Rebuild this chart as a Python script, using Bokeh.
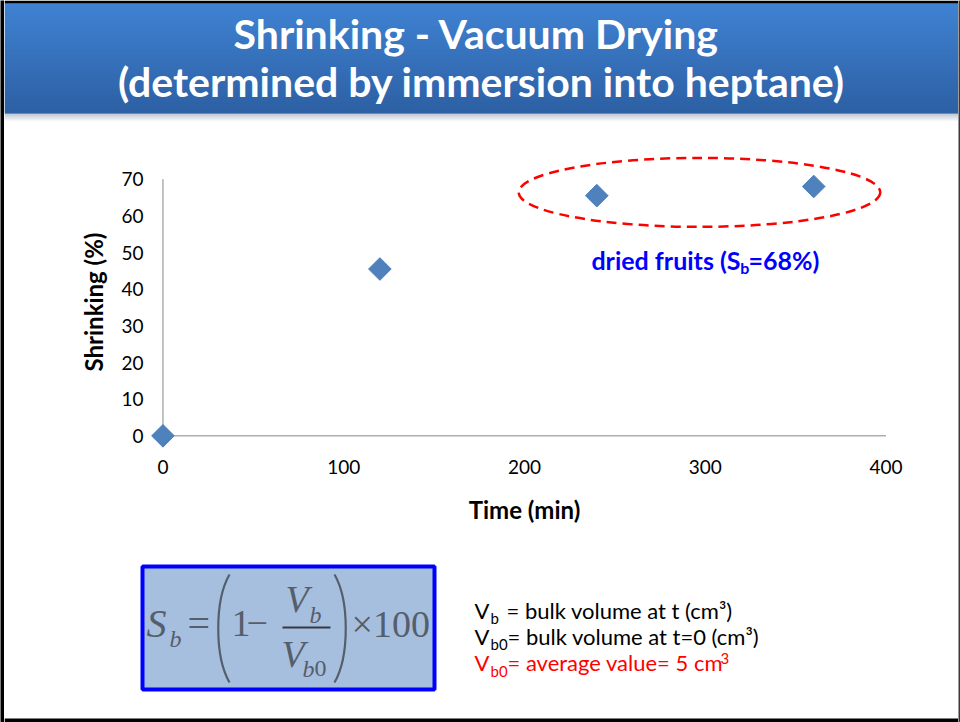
from bokeh.plotting import figure
from bokeh.models import Range1d
from bokeh.layouts import row, column
from bokeh.embed import file_html
from bokeh.resources import INLINE
from bokeh.core.properties import value

# ---- data ----
time_min = [0, 120, 240, 360]
shrinking_pct = [0, 45.5, 65.5, 68]
x_ticks = [0, 100, 200, 300, 400]
y_ticks = [0, 10, 20, 30, 40, 50, 60, 70]
x_label = "Time (min)"
y_label = "Shrinking (%)"
title_lines = ["Shrinking  - Vacuum Drying", "(determined by immersion into heptane)"]
sb_final = 68

SANS = value("Lato")
SERIF = value("Liberation Serif")

W, H = 960, 722
LEFT_EDGE, RIGHT_EDGE = 4, 2
INNER_W = W - LEFT_EDGE - RIGHT_EDGE
BANNER_H, CHART_H = 122, 433
BOTTOM_H = H - BANNER_H - CHART_H

# text glyphs sit this far (in em) below the requested alphabetic baseline
BASE_SHIFT = 0.36


def lift(y, size_px):
    return y - BASE_SHIFT * size_px


def blend(c0, c1, t):
    a = [int(c0[i:i + 2], 16) for i in (1, 3, 5)]
    b = [int(c1[i:i + 2], 16) for i in (1, 3, 5)]
    return "#%02x%02x%02x" % tuple(round(a[k] + (b[k] - a[k]) * t) for k in range(3))


def canvas_fig(width, height, y_top):
    """A figure whose frame fills it, addressed in page pixels (y grows down)."""
    p = figure(width=width, height=height, output_backend="svg", toolbar_location=None,
               x_range=Range1d(LEFT_EDGE, LEFT_EDGE + width),
               y_range=Range1d(y_top + height, y_top),
               x_axis_location=None, y_axis_location=None, min_border=0,
               outline_line_color=None, background_fill_color="white",
               border_fill_color="white", frame_align=False)
    p.grid.visible = False
    return p


def edge_fig(width, color):
    p = figure(width=width, height=H, output_backend="svg", toolbar_location=None,
               x_axis_location=None, y_axis_location=None, min_border=0,
               outline_line_color=None, background_fill_color=color,
               border_fill_color=color, x_range=Range1d(0, 1), y_range=Range1d(0, 1),
               frame_align=False)
    p.grid.visible = False
    return p


# ---- title banner ----
banner = canvas_fig(INNER_W, BANNER_H, 0)
n = 55
band_top, band_bot = 3, 113
step = (band_bot - band_top) / n
banner.quad(left=[LEFT_EDGE] * n, right=[W - RIGHT_EDGE] * n,
            top=[band_top + i * step for i in range(n)],
            bottom=[band_top + (i + 1) * step + 0.5 for i in range(n)],
            fill_color=[blend("#3f82d2", "#2d60a4", i / (n - 1)) for i in range(n)],
            line_color=None)
m = 9
banner.quad(left=[LEFT_EDGE] * m, right=[W - RIGHT_EDGE] * m,
            top=[band_bot + i for i in range(m)],
            bottom=[band_bot + i + 1 for i in range(m)],
            fill_color=[blend("#a9b6c6", "#ffffff", i / (m - 1)) for i in range(m)],
            line_color=None)
banner.quad(left=[LEFT_EDGE], right=[W - RIGHT_EDGE], top=[0], bottom=[3],
            fill_color="black", line_color=None)
banner.text(x=[481, 481], y=[lift(48, 41), lift(96, 41)], text=title_lines, text_font=SANS,
            text_font_size="41px", text_font_style="bold", text_color="white",
            text_align="center", text_baseline="alphabetic")

# ---- scatter chart ----
px_x0, px_x1 = 148 - LEFT_EDGE, (W - RIGHT_EDGE) - 900
chart = figure(width=INNER_W, height=CHART_H, output_backend="svg", toolbar_location=None,
               x_range=Range1d(-8, 408), y_range=Range1d(-4, 77),
               min_border_left=px_x0, min_border_right=px_x1,
               min_border_top=31, min_border_bottom=105,
               outline_line_color=None, background_fill_color="white",
               border_fill_color="white", frame_align=False)
chart.grid.visible = False
chart.xaxis.ticker = x_ticks
chart.yaxis.ticker = y_ticks
for ax in (chart.xaxis, chart.yaxis):
    ax.axis_line_color = None
    ax.major_tick_line_color = None
    ax.minor_tick_line_color = None
    ax.major_tick_out = 0
    ax.major_tick_in = 0
    ax.minor_tick_out = 0
    ax.major_label_text_font = "Lato"
    ax.major_label_text_font_size = "19px"
    ax.major_label_text_color = "black"
    ax.axis_label_text_font = "Lato"
    ax.axis_label_text_font_size = "24px"
    ax.axis_label_text_font_style = "bold"
    ax.axis_label_text_color = "black"
chart.xaxis.axis_label = x_label
chart.yaxis.axis_label = y_label
chart.xaxis.major_label_standoff = 9
chart.yaxis.major_label_standoff = 5
chart.xaxis.axis_label_standoff = 18
chart.yaxis.axis_label_standoff = 10

# axis lines crossing at the origin
chart.segment(x0=[x_ticks[0], x_ticks[0]], y0=[y_ticks[0], y_ticks[0]],
              x1=[x_ticks[-1], x_ticks[0]], y1=[y_ticks[0], y_ticks[-1]],
              line_color="#868686", line_width=1)

# dashed ring around the plateau points
chart.ellipse(x=[296.8], y=[66.4], width=[200], height=[18.8], fill_color=None,
              line_color="#ff0000", line_width=2.5, line_dash="10 6")

chart.scatter(x=time_min, y=shrinking_pct, marker="square", size=16, angle=0.785398,
              fill_color="#4f81bd", line_color="#4a7ebb")

# plateau annotation: dried fruits (S_b=68%)
chart.text(x=[237.0], y=[47.85], text=["dried fruits (S"], text_font=SANS,
           text_font_size="25px", text_font_style="bold", text_color="#0000ff",
           text_align="left", text_baseline="alphabetic")
chart.text(x=[319.4], y=[45.8], text=["b"], text_font=SANS,
           text_font_size="16px", text_font_style="bold", text_color="#0000ff",
           text_align="left", text_baseline="alphabetic")
chart.text(x=[323.9], y=[47.85], text=["=%d%%)" % sb_final], text_font=SANS,
           text_font_size="25px", text_font_style="bold", text_color="#0000ff",
           text_align="left", text_baseline="alphabetic")

# ---- formula and definitions ----
bottom = canvas_fig(INNER_W, BOTTOM_H, BANNER_H + CHART_H)
bottom.quad(left=[LEFT_EDGE], right=[W - RIGHT_EDGE], top=[718], bottom=[722],
            fill_color="black", line_color=None)
bottom.quad(left=[142], right=[434], top=[566], bottom=[689],
            fill_color="#a7bfde", line_color="#0000ff", line_width=4)

fc = "#555e6b"
def ftxt(x, y, s, size, italic=False):
    bottom.text(x=[x], y=[lift(y, size)], text=[s], text_font=SERIF,
                text_font_size="%dpx" % size,
                text_font_style="italic" if italic else "normal", text_color=fc,
                text_align="left", text_baseline="alphabetic")

ftxt(146, 637, "S", 40, True)
ftxt(169, 647, "b", 24, True)
ftxt(187, 637, "=", 40)
ftxt(231, 637, "1", 38)
ftxt(246, 637, "\u2212", 38)
ftxt(285, 612, "V", 38, True)
ftxt(309, 623, "b", 24, True)
ftxt(281, 667, "V", 38, True)
ftxt(302, 677, "b", 24, True)
ftxt(314, 677, "0", 24)
ftxt(351, 637, "\u00d7100", 38)
bottom.segment(x0=[282], y0=[627], x1=[330], y1=[627], line_color="#353a42", line_width=2)
bottom.bezier(x0=[229, 334], y0=[574, 574], x1=[229, 334], y1=[682, 682],
              cx0=[214, 349], cy0=[600, 600], cx1=[214, 349], cy1=[656, 656],
              line_color=fc, line_width=2.2)

def dtxt(x, y, s, size, color):
    bottom.text(x=[x], y=[lift(y, size)], text=[s], text_font=SANS,
                text_font_size="%dpx" % size,
                text_color=color, text_align="left", text_baseline="alphabetic")

dtxt(474, 618, "V", 22, "black")
dtxt(490, 623, "b", 15, "black")
dtxt(506, 618, "= bulk volume at t (cm\u00b3)", 22, "black")
dtxt(474, 644, "V", 22, "black")
dtxt(490, 649, "b0", 15, "black")
dtxt(507, 644, "= bulk volume at t=0 (cm\u00b3)", 22, "black")
dtxt(474, 670, "V", 22, "#ff0000")
dtxt(490, 676, "b0", 15, "#ff0000")
dtxt(507, 670, "= average value= 5 cm", 22, "#ff0000")
dtxt(720, 663, "3", 15, "#ff0000")

layout = row(edge_fig(LEFT_EDGE, "black"),
             column(banner, chart, bottom),
             edge_fig(RIGHT_EDGE, "#3a3a3a"))

open("out.html", "w").write(file_html(layout, INLINE, title="Shrinking - Vacuum Drying"))
